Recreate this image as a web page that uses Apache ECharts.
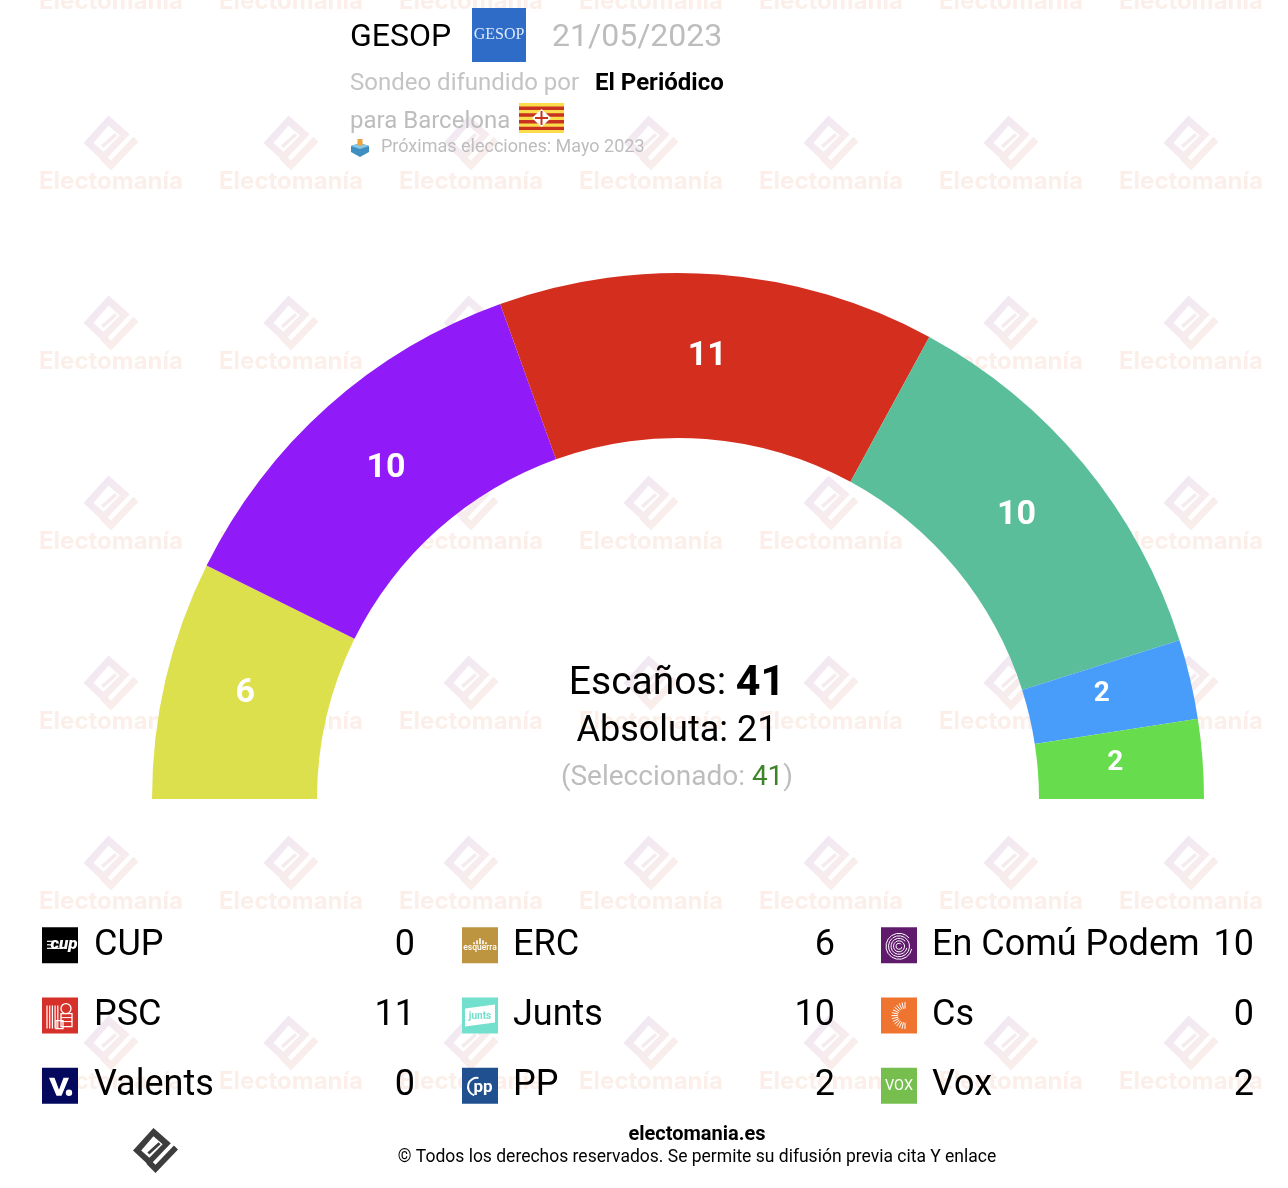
<!DOCTYPE html>
<html><head><meta charset="utf-8">
<style>html,body{margin:0;padding:0;background:#fff}#c{width:1288px;height:1188px}</style>
<script src="https://cdn.jsdelivr.net/npm/echarts@6/dist/echarts.min.js"></script>
</head><body><div id="c"></div>
<script>
// ---- data ----
const arcParties = ['ERC', 'En Comú Podem', 'PSC', 'Junts', 'PP', 'Vox'];
const arcSeats = [6, 10, 11, 10, 2, 2];
const arcColors = ['#DDE04D', '#911AF8', '#D42E1F', '#5ABE9B', '#479DF9', '#67DD4D'];
const listColumnA = ['CUP', 'PSC', 'Valents'];
const listSeatsA = [0, 11, 0];
const listColumnB = ['ERC', 'Junts', 'PP'];
const listSeatsB = [6, 10, 2];
const listColumnC = ['En Comú Podem', 'Cs', 'Vox'];
const listSeatsC = [10, 0, 2];
const totalSeats = 41, majority = 21, selected = 41;
const pollster = 'GESOP', pollDate = '21/05/2023', outlet = 'El Periódico';
const nextElection = 'Próximas elecciones: Mayo 2023';

const FONT = 'Roboto';
const LOGO_PARTS = [
  [[-2,-22],[15,-7],[-6,15],[-22,0]],
  [[-2,-14],[-14,0],[-6,7],[7,-6]],
  [[3,-8],[5,-6],[-6,4],[-8,2]],
  [[18,-5],[22,-1],[0,22],[-9,13],[-5,9],[0,14]]
];
echarts.graphic.registerShape('siteLogo', echarts.graphic.extendShape({
  shape:{cx:0,cy:0,size:44},
  buildPath(ctx, s){
    const k = s.size/44;
    LOGO_PARTS.forEach(part=>{
      part.forEach((p,i)=>{ const x=s.cx+p[0]*k, y=s.cy+p[1]*k; i?ctx.lineTo(x,y):ctx.moveTo(x,y); });
      ctx.closePath();
    });
  }
}));
const g = [];
function txt(x, y, text, size, color, opt) {
  opt = opt || {};
  g.push({type:'text', x, y, z: opt.z || 10, silent:true, style:Object.assign({
    text, fill:color, font:(opt.weight||'400')+' '+size+'px '+FONT,
    textAlign:opt.align||'left', textVerticalAlign:'middle'}, opt.style||{})});
}
// watermark
const wmGrad = {type:'linear',x:0,y:0,x2:1,y2:1,colorStops:[{offset:0,color:'#ece6f6'},{offset:0.5,color:'#f6ebee'},{offset:1,color:'#fdf1e6'}]};
for (let j = 0; j < 7; j++) for (let i = 0; i < 7; i++) {
  const cx = 111 + 180*i, cy = 143 + 180*(j-1) ;
  if (cy > -30) g.push({type:'siteLogo', z:0, silent:true, shape:{cx,cy,size:55}, style:{fill:wmGrad}});
  g.push({type:'text', z:0, silent:true, x:cx, y:cy+39, style:{text:'Electomanía', fill:'#fcefe9', font:'700 24px Inter', textAlign:'center', textVerticalAlign:'middle'}});
}
// header
txt(350, 38, pollster, 32, '#000');
g.push({type:'rect', z:5, silent:true, shape:{x:472,y:8,width:54,height:54}, style:{fill:'#2E6CC8'}});
g.push({type:'text', z:6, silent:true, x:499, y:35, style:{text:pollster, fill:'#dfe9fa', font:'400 16px "Liberation Serif"', textAlign:'center', textVerticalAlign:'middle'}});
txt(552, 38, pollDate, 32, '#bdbdbd');
txt(350, 84, 'Sondeo difundido por', 24, '#c4c4c4');
txt(595, 84, outlet, 24, '#000', {weight:'700'});
txt(350, 122, 'para Barcelona', 24, '#bdbdbd');
// flag
const flag = [{type:'rect', shape:{x:0,y:0,width:45,height:30}, style:{fill:'#FBDC4A'}}];
for (let k = 0; k < 4; k++) flag.push({type:'rect', shape:{x:0,y:3.6+6.7*k,width:45,height:3.4}, style:{fill:'#C8321F'}});
flag.push({type:'polygon', shape:{points:[[22.5,6],[32,15],[22.5,24],[13,15]]}, style:{fill:'#fff'}});
flag.push({type:'rect', shape:{x:21.5,y:8,width:2,height:14}, style:{fill:'#C8321F'}});
flag.push({type:'rect', shape:{x:16,y:14,width:13,height:2}, style:{fill:'#C8321F'}});
g.push({type:'group', z:6, silent:true, x:519, y:103, children:flag});
// ballot box
g.push({type:'group', z:6, silent:true, x:351, y:139, children:[
  {type:'polygon', shape:{points:[[0,7],[9,4],[18,7],[18,13],[9,18],[0,13]]}, style:{fill:'#3E8FC0'}},
  {type:'polygon', shape:{points:[[0,7],[9,4],[18,7],[9,10]]}, style:{fill:'#86C8E6'}},
  {type:'rect', shape:{x:6.5,y:0,width:5,height:6.5}, style:{fill:'#EFA33A'}}
]});
txt(381, 147, nextElection, 18, '#bdbdbd');
// centre
g.push({type:'text', z:10, silent:true, x:677, y:684, style:{
  text:'{a|Escaños: }{b|'+totalSeats+'}', textAlign:'center', textVerticalAlign:'middle',
  rich:{a:{font:'400 39px '+FONT, fill:'#000'}, b:{font:'700 43px '+FONT, fill:'#000'}}}});
txt(677, 732, 'Absoluta: '+majority, 36, '#000', {align:'center'});
g.push({type:'text', z:10, silent:true, x:677, y:778, style:{
  text:'{a|(Seleccionado: }{b|'+selected+'}{a|)}', textAlign:'center', textVerticalAlign:'middle',
  rich:{a:{font:'400 28px '+FONT, fill:'#bdbdbd'}, b:{font:'400 28px '+FONT, fill:'#3C8427'}}}});
// party icons
function icon(name) {
  const bg = {CUP:'#000','PSC':'#D6302A',Valents:'#05095E',ERC:'#BD9440',Junts:'#72E0CC',PP:'#20508F','En Comú Podem':'#5F1A6B',Cs:'#EF7430',Vox:'#76BF4F'}[name];
  const ch = [{type:'rect', shape:{x:0,y:0,width:36,height:36}, style:{fill:bg}}];
  const t = (x,y,s,size,w,fill,fam,style) => ch.push({type:'text', x, y, style:{text:s, fill:fill||'#fff', font:(style||'')+' '+(w||400)+' '+size+'px '+(fam||FONT), textAlign:'center', textVerticalAlign:'middle'}});
  const l = (x1,y1,x2,y2,w,c) => ch.push({type:'line', shape:{x1,y1,x2,y2}, style:{stroke:c||'#fff', lineWidth:w||1}});
  if (name==='CUP') { t(22,17.5,'cup',17,900,'#fff',FONT,'italic'); l(5,14,13,14,1.2); l(5,17.5,11,17.5,1.2); l(5,21,20,21,1.2); }
  if (name==='PSC') { for (let k=0;k<5;k++) l(5+2.7*k,8,5+2.7*k,31,1.2);
    ch.push({type:'circle', shape:{cx:24,cy:11,r:5}, style:{fill:'none',stroke:'#fff',lineWidth:1.3}});
    ch.push({type:'rect', shape:{x:19,y:16,width:11,height:13}, style:{fill:'none',stroke:'#fff',lineWidth:1.3}});
    l(19,20,30,20,1); l(19,24,30,24,1); ch.push({type:'rect', shape:{x:14,y:23,width:7,height:8}, style:{fill:'none',stroke:'#fff',lineWidth:1.3}}); }
  if (name==='Valents') { ch.push({type:'polygon', shape:{points:[[7,10],[12.5,10],[17,22],[21.5,10],[27,10],[19.5,28],[14.5,28]]}, style:{fill:'#fff'}});
    ch.push({type:'circle', shape:{cx:27,cy:25,r:3.2}, style:{fill:'#fff'}}); }
  if (name==='ERC') { [[12,15,2],[15,13,4],[18,11,6],[21,13,4],[24,15,2]].forEach(b=>ch.push({type:'rect',shape:{x:b[0]-0.8,y:b[1],width:1.6,height:b[2]},style:{fill:'#fff'}}));
    t(18,21,'esquerra',8.5,500,'#fff'); }
  if (name==='Junts') { ch.push({type:'polygon', shape:{points:[[3,11],[33,7],[33,25],[3,29]]}, style:{fill:'#fff'}}); t(18,18.5,'junts',10,700,'#72E0CC'); }
  if (name==='PP') { t(21,20,'pp',17,700,'#fff'); ch.push({type:'arc', shape:{cx:15,cy:19,r:9,startAngle:Math.PI*0.6,endAngle:Math.PI*1.55}, style:{stroke:'#fff',lineWidth:2,fill:'none'}}); }
  if (name==='En Comú Podem') { [3,5.5,8,10.5,13].forEach((r,k)=>ch.push({type:'arc', shape:{cx:18,cy:19,r,startAngle:k%2?-2.2:0.2,endAngle:k%2?4:5.6}, style:{stroke:'#fff',lineWidth:1,fill:'none'}})); }
  if (name==='Cs') { for (let k=0;k<15;k++){ const a=Math.PI*(0.5+k/14); l(24+7*Math.cos(a),18+7*Math.sin(a),24+13.5*Math.cos(a),18+13.5*Math.sin(a),1); } }
  if (name==='Vox') t(18,18.5,'VOX',14.5,400,'#fff');
  return ch;
}
const iconY = [927.3, 997.6, 1067.8], rowY = [945.5, 1015.7, 1086.4];
[[listColumnA,listSeatsA,42,94,415],[listColumnB,listSeatsB,462,513,835],[listColumnC,listSeatsC,881,932,1254]].forEach(col=>{
  col[0].forEach((name,r)=>{
    g.push({type:'group', z:6, silent:true, x:col[2], y:iconY[r], children:icon(name)});
    txt(col[3], rowY[r], name, 36, '#000');
    txt(col[4], rowY[r], String(col[1][r]), 36, '#000', {align:'right'});
  });
});
// footer
g.push({type:'siteLogo', z:6, silent:true, shape:{cx:155.5,cy:1150.5,size:45}, style:{fill:'#3D3D3D'}});
txt(697, 1135, 'electomania.es', 20, '#000', {weight:'700', align:'center'});
txt(697, 1158, '© Todos los derechos reservados. Se permite su difusión previa cita Y enlace', 17.5, '#000', {align:'center'});

const labelNudge = [[2,-4],[5,3],[-5,3],[-6,1],[-11,-3],[-8,-2]];
const chart = echarts.init(document.getElementById('c'));
chart.setOption({
  animation:false,
  backgroundColor:'#fff',
  graphic:{elements:g},
  series:[{
    type:'pie', z:2, silent:true, center:[678,799], radius:[361,526],
    startAngle:180, endAngle:360, clockwise:true, avoidLabelOverlap:false,
    label:{show:true, position:'inside', formatter:'{c}', color:'#fff', fontFamily:FONT, fontWeight:700, fontSize:34},
    labelLine:{show:false},
    labelLayout:p=>({dx:labelNudge[p.dataIndex][0], dy:labelNudge[p.dataIndex][1]}),
    data:arcParties.map((name,i)=>({name, value:arcSeats[i], itemStyle:{color:arcColors[i]},
      label:{fontSize: arcSeats[i] < 3 ? 28 : 34}}))
  }]
});
</script></body></html>
